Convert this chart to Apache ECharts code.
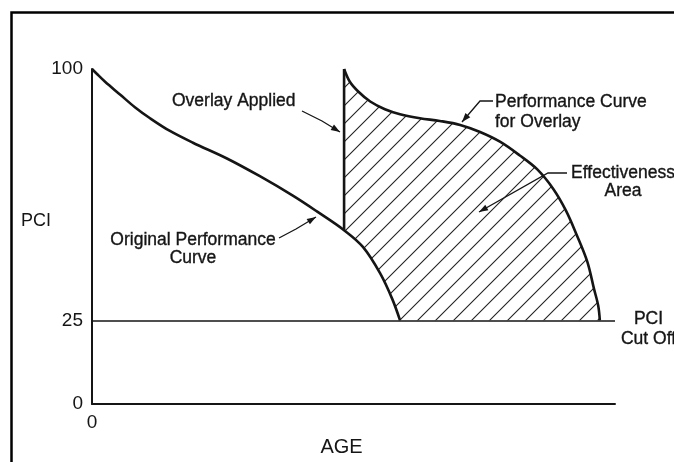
<!DOCTYPE html>
<html>
<head>
<meta charset="utf-8">
<script src="https://cdn.jsdelivr.net/npm/echarts@6/dist/echarts.min.js"></script>
<style>
  html, body { margin: 0; padding: 0; background: #fff; }
  #chart { width: 674px; height: 462px; }
</style>
</head>
<body>
<div id="chart"></div>
<script>
// original performance curve (age, pci)
const originalAge = [0, 0.96, 2.5, 5.35, 8.2, 11.1, 14.9, 19.3, 25.8, 32.1, 38.4, 43, 48.2, 51.8, 55.1, 57.4, 58.9];
const originalPci = [100, 98.5, 96.2, 92.4, 88.6, 85.3, 81.5, 78, 73.3, 68, 62.2, 57.5, 51.9, 46.9, 39, 31.4, 25];
// performance curve after the overlay
const overlayAge = [48.2, 49.3, 50.9, 53.2, 56, 58.9, 62.7, 66.5, 70.4, 74.2, 78, 81.8, 85.1, 88.2, 90.6, 92.7, 94.7, 96, 96.8, 97.1];
const overlayPci = [100, 96.2, 93.3, 90.3, 88, 86.5, 85.3, 84.5, 83.3, 81.2, 78.3, 74.2, 70.1, 64.2, 57.8, 50.4, 42.5, 34.3, 29.3, 25];
const overlayIndex = 12;   // point on original curve where the overlay goes on
const cutOffPci = 25;
const yTickLabels = [0, 25, 100];
const xTickLabels = [0];

const ink = '#151515';
const font = '17.5px "Liberation Sans", Arial, sans-serif';

const zip = (xs, ys) => xs.map((x, i) => [x, ys[i]]);

// diagonal hatch tile
const hatch = document.createElement('canvas');
hatch.width = 18;
hatch.height = 18;
(function () {
    const c = hatch.getContext('2d');
    c.strokeStyle = '#222';
    c.lineWidth = 1.1;
    c.beginPath();
    c.moveTo(0, 18); c.lineTo(18, 0);
    c.moveTo(-9, 9); c.lineTo(9, -9);
    c.moveTo(9, 27); c.lineTo(27, 9);
    c.stroke();
})();

function arrow(points) {
    const n = points.length;
    const [x1, y1] = points[n - 2];
    const [x2, y2] = points[n - 1];
    const a = Math.atan2(y2 - y1, x2 - x1);
    const len = 9, w = 3.2;
    const bx = x2 - len * Math.cos(a), by = y2 - len * Math.sin(a);
    const head = [
        [x2, y2],
        [bx + w * Math.sin(a), by - w * Math.cos(a)],
        [bx - w * Math.sin(a), by + w * Math.cos(a)]
    ];
    return {
        type: 'group',
        children: [
            { type: 'polyline', shape: { points: points }, style: { stroke: ink, lineWidth: 1.3, fill: null } },
            { type: 'polygon', shape: { points: head }, style: { fill: ink } }
        ]
    };
}

function label(text, x, y, align, lineHeight) {
    return {
        type: 'text',
        x: x,
        y: y,
        style: {
            text: text,
            font: font,
            fill: ink,
            stroke: ink,
            lineWidth: 0.35,
            align: align,
            verticalAlign: 'middle',
            lineHeight: lineHeight || 20
        }
    };
}

const chart = echarts.init(document.getElementById('chart'));
chart.setOption({
    animation: false,
    backgroundColor: '#fff',
    grid: { left: 92, right: 59, top: 69, bottom: 52 },
    xAxis: {
        type: 'value',
        min: 0,
        max: 100,
        interval: 50,
        name: 'AGE',
        nameLocation: 'middle',
        nameGap: 39,
        nameTextStyle: {
            fontFamily: 'Liberation Sans', fontSize: 20, color: ink,
            verticalAlign: 'middle', padding: [0, 24, 0, 0]
        },
        axisLine: { lineStyle: { color: ink, width: 2 } },
        axisTick: { show: false },
        splitLine: { show: false },
        axisLabel: {
            margin: 9,
            fontFamily: 'Liberation Sans', fontSize: 19, color: ink,
            formatter: v => xTickLabels.includes(v) ? String(v) : ''
        }
    },
    yAxis: {
        type: 'value',
        min: 0,
        max: 100,
        interval: 25,
        axisLine: { show: true, lineStyle: { color: ink, width: 2 } },
        axisTick: { show: false },
        splitLine: { show: false },
        axisLabel: {
            margin: 9,
            fontFamily: 'Liberation Sans', fontSize: 19, color: ink,
            formatter: v => yTickLabels.includes(v) ? String(v) : ''
        }
    },
    series: [
        {
            // effectiveness area, hatched
            type: 'custom',
            z: 1,
            silent: true,
            data: [0],
            renderItem: function (params, api) {
                const pts = [];
                pts.push(api.coord([originalAge[overlayIndex], originalPci[overlayIndex]]));
                for (let i = 0; i < overlayAge.length; i++) {
                    pts.push(api.coord([overlayAge[i], overlayPci[i]]));
                }
                for (let i = originalAge.length - 1; i >= overlayIndex; i--) {
                    pts.push(api.coord([originalAge[i], originalPci[i]]));
                }
                return {
                    type: 'polygon',
                    shape: { points: pts },
                    style: { fill: { image: hatch, repeat: 'repeat' }, stroke: null }
                };
            }
        },
        {
            name: 'Original Performance Curve',
            type: 'line',
            z: 3,
            smooth: 0.35,
            symbol: 'none',
            lineStyle: { color: ink, width: 2.6 },
            data: zip(originalAge, originalPci),
            markLine: {
                silent: true,
                symbol: 'none',
                label: { show: false },
                lineStyle: { color: ink, width: 1.6, type: 'solid' },
                data: [{ yAxis: cutOffPci }]
            }
        },
        {
            name: 'Overlay Applied',
            type: 'line',
            z: 3,
            symbol: 'none',
            lineStyle: { color: ink, width: 2.6 },
            data: [[overlayAge[0], originalPci[overlayIndex]], [overlayAge[0], overlayPci[0]]]
        },
        {
            name: 'Performance Curve for Overlay',
            type: 'line',
            z: 3,
            smooth: 0.35,
            symbol: 'none',
            lineStyle: { color: ink, width: 2.6 },
            data: zip(overlayAge, overlayPci)
        }
    ],
    graphic: [
        {
            type: 'rect',
            shape: { x: 11.5, y: 12.5, width: 700, height: 500 },
            style: { fill: null, stroke: '#000', lineWidth: 2.5 }
        },
        {
            type: 'text',
            x: 51,
            y: 221.5,
            style: {
                text: 'PCI', font: '18px "Liberation Sans", Arial, sans-serif', fill: ink,
                align: 'right', verticalAlign: 'middle'
            }
        },
        label('Overlay Applied', 172, 101.5, 'left'),
        arrow([[302, 111], [322, 121], [340, 132]]),
        label('Original Performance\nCurve', 193, 249, 'center', 18),
        arrow([[279, 238], [296, 229], [316, 217]]),
        label('Performance Curve\nfor Overlay', 495, 112, 'left'),
        arrow([[493, 101], [480, 101], [462, 122]]),
        label('Effectiveness\nArea', 623, 182, 'center', 18),
        arrow([[567, 173], [548, 173], [479, 212]]),
        label('PCI\nCut Off', 648.5, 329, 'center')
    ]
});
</script>
</body>
</html>
